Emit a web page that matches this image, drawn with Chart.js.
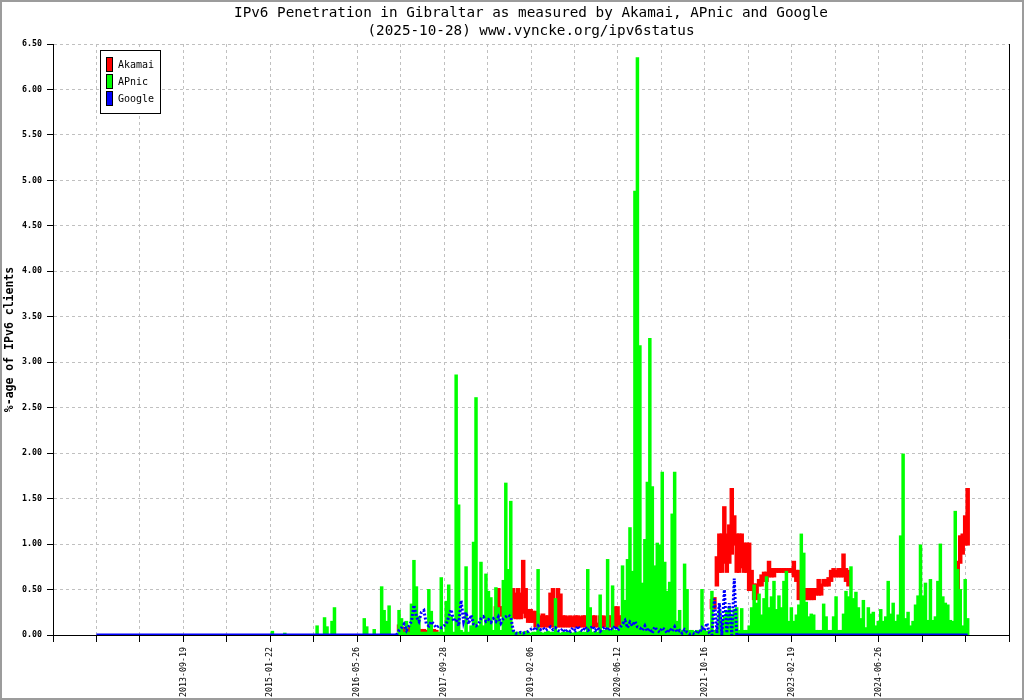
<!DOCTYPE html>
<html>
<head>
<meta charset="utf-8">
<title>IPv6 Penetration in Gibraltar</title>
<script src="https://cdn.jsdelivr.net/npm/chart.js@4.4.1/dist/chart.umd.min.js"></script>
<style>
  html, body { margin: 0; padding: 0; background: #fff; }
  #wrap { position: relative; width: 1024px; height: 700px; }
  #frame { position: absolute; left: 0; top: 0; width: 1024px; height: 700px; box-sizing: border-box; border: 2px solid #9c9c9c; pointer-events: none; }
</style>
</head>
<body>
<div id="wrap">
  <canvas id="ipv6Chart"></canvas>
  <div id="frame"></div>
</div>
<script>
// Chart texts
const titleLines = ['IPv6 Penetration in Gibraltar as measured by Akamai, APnic and Google',
                    '(2025-10-28) www.vyncke.org/ipv6status'];
const yTitle = '%-age of IPv6 clients';
const seriesNames = ['Akamai', 'APnic', 'Google'];
const seriesColors = ['#ff0000', '#00ff00', '#0000ff'];

// X axis: labelled ticks (every second tick carries a date)
const tickLabels = ['2013-09-19', '2015-01-22', '2016-05-26', '2017-09-28', '2019-02-06',
                    '2020-06-12', '2021-10-16', '2023-02-19', '2024-06-26'];
const tickStepDays = 245;

// Y axis
const yMax = 6.5;
const yStep = 0.5;

// Samples are fortnightly
const sampleDays = 14;

// APnic, fortnightly from 2015-01-20
const apnicStart = '2015-01-20';
const apnicValues = [
  0, 0.04, 0, 0, 0, 0, 0.02, 0, 0, 0, 0, 0, 0, 0, 0, 0, 0, 0, 0, 0.10,
  0, 0, 0.19, 0.09, 0, 0.15, 0.30, 0, 0, 0, 0, 0, 0, 0, 0, 0, 0, 0, 0.18, 0.09,
  0, 0, 0.06, 0, 0, 0.53, 0.27, 0.15, 0.32, 0, 0, 0, 0.27, 0.18, 0.03, 0.15, 0.03, 0.34, 0.82, 0.53,
  0.20, 0.03, 0.03, 0.03, 0.50, 0.26, 0.03, 0.03, 0.03, 0.63, 0.03, 0.37, 0.55, 0.20, 0.03, 2.86, 1.43, 0.05, 0.03, 0.75,
  0.03, 0.10, 1.02, 2.61, 0.10, 0.80, 0.10, 0.67, 0.48, 0.41, 0.05, 0.52, 0.30, 0.05, 0.60, 1.67, 0.72, 1.47, 0.05, 0.03,
  0.03, 0.02, 0.03, 0.04, 0.03, 0.02, 0.03, 0.03, 0.72, 0.03, 0.02, 0.03, 0.04, 0.03, 0.03, 0.40, 0.03, 0.02, 0.03, 0.03,
  0.04, 0.03, 0.02, 0.03, 0.03, 0.04, 0.03, 0.03, 0.72, 0.30, 0.03, 0.04, 0.03, 0.44, 0.05, 0.05, 0.83, 0.05, 0.54, 0.05,
  0.05, 0.10, 0.76, 0.38, 0.83, 1.18, 0.70, 4.88, 6.35, 3.18, 0.57, 1.05, 1.68, 3.26, 1.63, 0.76, 1.01, 0.99, 1.79, 0.80,
  0.48, 0.58, 1.33, 1.79, 0.15, 0.27, 0.05, 0.78, 0.50, 0.05, 0.05, 0.04, 0.05, 0.05, 0.50, 0.05, 0.04, 0.05, 0.48, 0.05,
  0.05, 0.27, 0.15, 0.20, 0.25, 0.30, 0.20, 0.28, 0.30, 0.05, 0.29, 0.05, 0.05, 0.10, 0.30, 0.55, 0.35, 0.45, 0.22, 0.40,
  0.64, 0.30, 0.42, 0.59, 0.28, 0.43, 0.30, 0.59, 0.70, 0.15, 0.30, 0.15, 0.22, 0.33, 1.11, 0.90, 0.36, 0.20, 0.23, 0.22,
  0.05, 0.05, 0.05, 0.34, 0.20, 0.05, 0.05, 0.20, 0.42, 0.05, 0.05, 0.23, 0.48, 0.42, 0.75, 0.40, 0.47, 0.30, 0.18, 0.38,
  0.08, 0.30, 0.23, 0.25, 0.10, 0.15, 0.28, 0.15, 0.20, 0.59, 0.23, 0.35, 0.15, 0.22, 1.09, 1.99, 0.18, 0.25, 0.10, 0.15,
  0.33, 0.43, 0.99, 0.43, 0.57, 0.16, 0.61, 0.16, 0.20, 0.59, 1.00, 0.42, 0.35, 0.33, 0.16, 0.15, 1.36, 0.72, 0.50, 0.10,
  0.61, 0.18
];

// Akamai, fortnightly low/high per period, in four stretches
const akamaiStarts = ['2017-01-17', '2018-07-17', '2021-11-16', '2025-09-02'];
const akamaiLow = [
  [0.05, 0.05, 0.05, 0.05, 0.05, 0.05, 0.05, 0.04, 0.02, 0.02, 0.02, 0.02, 0.02, 0.02, 0.02, 0.02],
  [0.22, 0.22, 0.22, 0.22, 0.22, 0.22, 0.20, 0.20, 0.19, 0.19, 0.19, 0.25, 0.20, 0.15, 0.15, 0.15,
   0.10, 0.10, 0.10, 0.10, 0.10, 0.10, 0.10, 0.10, 0.10, 0.10, 0.10, 0.10, 0.10, 0.10, 0.10, 0.10,
   0.10, 0.10, 0.10, 0.10, 0.10, 0.10, 0.10, 0.10, 0.10, 0.10, 0.10, 0.10, 0.10, 0.10, 0.10, 0.10,
   0.10, 0.10, 0.10, 0.10, 0.10],
  [0.30, 0.30, 0.55, 0.70, 0.70, 0.80, 0.70, 0.80, 0.90, 1.00, 0.70, 0.70, 0.75, 0.70, 0.70, 0.50,
   0.50, 0.40, 0.40, 0.55, 0.55, 0.60, 0.60, 0.65, 0.65, 0.65, 0.70, 0.70, 0.70, 0.70, 0.70, 0.70,
   0.70, 0.65, 0.60, 0.40, 0.40, 0.40, 0.40, 0.40, 0.40, 0.40, 0.45, 0.45, 0.45, 0.55, 0.55, 0.55,
   0.60, 0.65, 0.65, 0.65, 0.65, 0.65, 0.60, 0.55],
  [0.50, 0.80, 0.90, 1.00, 1.00]
];
const akamaiHigh = [
  [0.10, 0.08, 0.07, 0.07, 0.07, 0.08, 0.10, 0.08, 0.05, 0.05, 0.05, 0.04, 0.04, 0.04, 0.05, 0.04],
  [0.30, 0.50, 0.30, 0.30, 0.32, 0.30, 0.35, 0.50, 0.45, 0.50, 0.45, 0.81, 0.50, 0.27, 0.27, 0.25,
   0.25, 0.22, 0.20, 0.22, 0.20, 0.20, 0.45, 0.50, 0.20, 0.50, 0.44, 0.20, 0.20, 0.19, 0.20, 0.19,
   0.20, 0.20, 0.19, 0.20, 0.20, 0.20, 0.12, 0.20, 0.20, 0.12, 0.20, 0.20, 0.19, 0.20, 0.20, 0.20,
   0.30, 0.30, 0.20, 0.20, 0.18],
  [0.38, 0.40, 0.85, 1.10, 1.10, 1.40, 1.10, 1.20, 1.60, 1.30, 1.10, 1.10, 1.10, 1.00, 1.00, 1.00,
   0.70, 0.55, 0.55, 0.60, 0.65, 0.68, 0.68, 0.80, 0.72, 0.72, 0.72, 0.72, 0.72, 0.72, 0.72, 0.72,
   0.72, 0.80, 0.70, 0.70, 0.50, 0.50, 0.50, 0.50, 0.50, 0.50, 0.50, 0.60, 0.55, 0.60, 0.60, 0.62,
   0.70, 0.72, 0.70, 0.72, 0.72, 0.88, 0.72, 0.70],
  [0.80, 1.08, 1.10, 1.30, 1.60]
];

// Google: flat at 0 from the first day, fortnightly samples while it moved, then 0 to the last day
const googleFirstDay = '2012-05-17';
const googleLastDay = '2025-10-28';
const googleStart = '2017-01-03';
const googleValues = [
  0, 0.05, 0.08, 0.12, 0.05, 0.10, 0.15, 0.33, 0.20, 0.15, 0.25, 0.27, 0.12, 0.10, 0.15, 0.12, 0.08, 0.10, 0.08, 0.10,
  0.12, 0.20, 0.28, 0.15, 0.18, 0.10, 0.38, 0.15, 0.25, 0.12, 0.22, 0.12, 0.10, 0.12, 0.18, 0.20, 0.15, 0.17, 0.14, 0.18,
  0.15, 0.20, 0.13, 0.18, 0.20, 0.22, 0.20, 0.05, 0.02, 0.02, 0.03, 0.02, 0.03, 0.04, 0.06, 0.08, 0.05, 0.10, 0.06, 0.08,
  0.05, 0.07, 0.09, 0.06, 0.08, 0.05, 0.04, 0.07, 0.03, 0.06, 0.04, 0.08, 0.05, 0.10, 0.06, 0.04, 0.09, 0.05, 0.07, 0.10,
  0.05, 0.08, 0.04, 0.07, 0.09, 0.05, 0.08, 0.06, 0.10, 0.05, 0.08, 0.12, 0.16, 0.08, 0.14, 0.10, 0.15, 0.09, 0.08, 0.05,
  0.10, 0.04, 0.07, 0.02, 0.09, 0.05, 0.03, 0.08, 0.06, 0.02, 0.07, 0.04, 0.09, 0.03, 0.05, 0.02, 0.06, 0.03, 0.01, 0.02,
  0.01, 0.05, 0.02, 0.08, 0.05, 0.13, 0.02, 0, 0.40, 0.02, 0.35, 0, 0.50, 0.02, 0.35, 0, 0.62, 0
];

// Helpers: dates become day numbers on a linear x axis
function dayNum(s) {
  return Date.parse(s + 'T00:00:00Z') / 86400000;
}
function sampled(start, values) {
  const d0 = dayNum(start);
  return values.map((v, k) => ({ x: d0 + k * sampleDays, y: v }));
}

const xMin = dayNum(tickLabels[0]) - 3 * tickStepDays;
const tickCount = 2 * tickLabels.length + 4;
const xMax = xMin + tickCount * tickStepDays;

const apnicData = sampled(apnicStart, apnicValues);

let akamaiData = [];
akamaiStarts.forEach((start, s) => {
  const d0 = dayNum(start);
  akamaiLow[s].forEach((lo, k) => {
    akamaiData.push({ x: d0 + k * sampleDays, y: [lo, akamaiHigh[s][k]] });
  });
});

const googleData = [{ x: dayNum(googleFirstDay), y: 0 }]
  .concat(sampled(googleStart, googleValues))
  .concat([{ x: dayNum(googleLastDay), y: 0 }]);

const monoFont = "'DejaVu Sans Mono', 'Liberation Mono', monospace";
Chart.defaults.color = '#000';
Chart.defaults.font.family = monoFont;

// White background, right edge of the plot and the boxed legend
const plotExtras = {
  id: 'plotExtras',
  beforeDraw(chart) {
    const ctx = chart.ctx;
    ctx.save();
    ctx.fillStyle = '#fff';
    ctx.fillRect(0, 0, chart.width, chart.height);
    ctx.restore();
  },
  afterDraw(chart) {
    const { ctx, chartArea } = chart;
    ctx.save();
    ctx.strokeStyle = '#000';
    ctx.lineWidth = 1;
    ctx.beginPath();
    ctx.moveTo(chartArea.right + 0.5, chartArea.top);
    ctx.lineTo(chartArea.right + 0.5, chartArea.bottom);
    ctx.stroke();

    const lx = chartArea.left + 47;
    const ly = chartArea.top + 6;
    ctx.fillStyle = '#fff';
    ctx.fillRect(lx, ly, 61, 64);
    ctx.strokeRect(lx + 0.5, ly + 0.5, 60, 63);
    ctx.font = '10px ' + monoFont;
    ctx.textBaseline = 'middle';
    chart.data.datasets.forEach((ds, k) => {
      const sy = ly + 7 + k * 17;
      ctx.fillStyle = seriesColors[k];
      ctx.fillRect(lx + 6, sy, 7, 15);
      ctx.strokeRect(lx + 6.5, sy + 0.5, 6, 14);
      ctx.fillStyle = '#000';
      ctx.fillText(ds.label, lx + 18, sy + 8);
    });
    ctx.restore();
  }
};

new Chart(document.getElementById('ipv6Chart'), {
  type: 'line',
  data: {
    datasets: [
      {
        type: 'bar',
        label: seriesNames[0],
        data: akamaiData,
        backgroundColor: seriesColors[0],
        borderWidth: 0,
        borderSkipped: false,
        barThickness: 1.5,
        inflateAmount: 1.5,
        grouped: false,
        order: 2
      },
      {
        type: 'bar',
        label: seriesNames[1],
        data: apnicData,
        backgroundColor: seriesColors[1],
        borderWidth: 0,
        barThickness: 2.5,
        inflateAmount: 0.5,
        grouped: false,
        order: 1
      },
      {
        type: 'line',
        label: seriesNames[2],
        data: googleData,
        borderColor: seriesColors[2],
        borderWidth: 3,
        pointRadius: 0,
        tension: 0,
        fill: false,
        order: 0,
        segment: {
          borderDash: c => (c.p0.parsed.y > 0.001 || c.p1.parsed.y > 0.001) ? [2, 2] : undefined
        }
      }
    ]
  },
  options: {
    responsive: true,
    maintainAspectRatio: false,
    animation: false,
    events: [],
    layout: { padding: { top: 0, right: 15, bottom: 0, left: 0 } },
    plugins: {
      legend: { display: false },
      tooltip: { enabled: false },
      title: {
        display: true,
        fullSize: false,
        text: titleLines,
        color: '#000',
        font: { family: monoFont, size: 14.3, weight: 'normal', lineHeight: 18 / 14.3 },
        padding: { top: 4, bottom: 4 }
      }
    },
    scales: {
      x: {
        type: 'linear',
        min: xMin,
        max: xMax,
        offset: false,
        afterBuildTicks(scale) {
          const ticks = [];
          for (let k = 0; k <= tickCount; k++) {
            ticks.push({ value: xMin + k * tickStepDays });
          }
          scale.ticks = ticks;
        },
        afterFit(scale) { scale.height = 65; },
        ticks: {
          autoSkip: false,
          minRotation: 90,
          maxRotation: 90,
          padding: 5,
          color: '#000',
          font: { family: monoFont, size: 8.3 },
          callback: (value, index) =>
            (index >= 3 && index % 2 === 1 && (index - 3) / 2 < tickLabels.length) ? tickLabels[(index - 3) / 2] : ''
        },
        grid: {
          color: '#c0c0c0',
          lineWidth: 1,
          offset: false,
          tickColor: '#000',
          tickLength: 7,
          tickBorderDash: []
        },
        border: { display: true, color: '#000', width: 1, dash: [3, 3] }
      },
      y: {
        type: 'linear',
        min: 0,
        max: yMax,
        afterFit(scale) { scale.width = 53; },
        ticks: {
          stepSize: yStep,
          padding: 5,
          color: '#000',
          font: { family: monoFont, size: 8.3, weight: 'bold' },
          callback: v => v.toFixed(2)
        },
        grid: {
          color: '#c0c0c0',
          lineWidth: 1,
          tickColor: '#000',
          tickLength: 6,
          tickBorderDash: []
        },
        border: { display: true, color: '#000', width: 1, dash: [3, 3] },
        title: {
          display: true,
          text: yTitle,
          color: '#000',
          font: { family: monoFont, size: 11.5, weight: 'bold' },
          padding: { top: 3, bottom: 0 }
        }
      }
    }
  },
  plugins: [plotExtras]
});
</script>
</body>
</html>
